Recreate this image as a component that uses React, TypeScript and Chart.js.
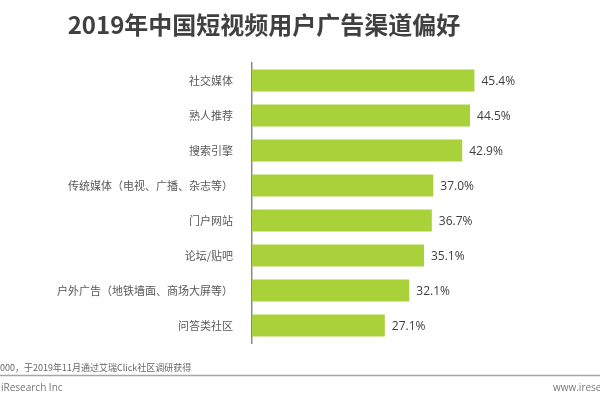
import React, { useEffect, useRef } from "react";
import { Chart, registerables } from "chart.js";

Chart.register(...registerables);

const categories = [
  "社交媒体",
  "熟人推荐",
  "搜索引擎",
  "传统媒体（电视、广播、杂志等）",
  "门户网站",
  "论坛/贴吧",
  "户外广告（地铁墙面、商场大屏等）",
  "问答类社区",
];
const values = [45.4, 44.5, 42.9, 37.0, 36.7, 35.1, 32.1, 27.1];
const titleText = "2019年中国短视频用户广告渠道偏好";
const sourceText = "000，于2019年11月通过艾瑞Click社区调研获得";
const brandText = "iResearch Inc";
const siteText = "www.iresearch.com.cn";

const CJK = '"Noto Sans CJK SC", "Noto Sans", sans-serif';

const decorPlugin = {
  id: "decor",
  afterDatasetsDraw(chart: any) {
    const ctx = chart.ctx;
    const meta = chart.getDatasetMeta(0);
    ctx.save();
    // value labels
    ctx.font = `12px "Open Sans", ${CJK}`;
    ctx.fillStyle = "#404040";
    ctx.textAlign = "left";
    ctx.textBaseline = "middle";
    meta.data.forEach((bar: any, i: number) => {
      ctx.fillText(values[i].toFixed(1) + "%", bar.x + 7, bar.y + 1);
    });
    // title
    ctx.font = `bold 24px ${CJK}`;
    ctx.fillStyle = "#404040";
    ctx.textAlign = "center";
    ctx.textBaseline = "middle";
    ctx.fillText(titleText, 264, 25);
    // footer
    ctx.font = `9px ${CJK}`;
    ctx.fillStyle = "#666666";
    ctx.textAlign = "left";
    ctx.fillText(sourceText, 0, 368);
    ctx.strokeStyle = "#a6a6a6";
    ctx.lineWidth = 1.5;
    ctx.beginPath();
    ctx.moveTo(0, 375.5);
    ctx.lineTo(600, 375.5);
    ctx.stroke();
    ctx.font = `10px "Open Sans", ${CJK}`;
    ctx.fillStyle = "#777777";
    ctx.fillText(brandText, 1, 388);
    ctx.fillText(siteText, 553, 388);
    ctx.restore();
  },
};

export default function App() {
  const ref = useRef<HTMLCanvasElement>(null);
  useEffect(() => {
    if (!ref.current) return;
    const chart = new Chart(ref.current, {
      type: "bar",
      data: {
        labels: categories,
        datasets: [
          {
            data: values,
            backgroundColor: "#a8d13a",
            barPercentage: 0.63,
            categoryPercentage: 1,
          },
        ],
      },
      options: {
        indexAxis: "y",
        animation: false,
        responsive: false,
        layout: { padding: { top: 63, bottom: 57, left: 0, right: 54 } },
        plugins: {
          legend: { display: false },
          tooltip: { enabled: false },
          title: { display: false },
        },
        scales: {
          x: {
            display: false,
            min: 0,
            max: 60,
          },
          y: {
            grid: { display: false },
            border: { display: true, color: "#8c8c8c", width: 1.5 },
            ticks: {
              color: "#595959",
              font: { size: 11, family: CJK },
              padding: 11,
            },
            afterFit(scale: any) {
              scale.width = 252;
            },
          },
        },
      },
      plugins: [decorPlugin],
    });
    return () => chart.destroy();
  }, []);
  return (
    <div style={{ position: "fixed", left: 0, top: 0, width: 600, height: 400, background: "#fff" }}>
      <canvas ref={ref} width={600} height={400} style={{ width: 600, height: 400 }} />
    </div>
  );
}
